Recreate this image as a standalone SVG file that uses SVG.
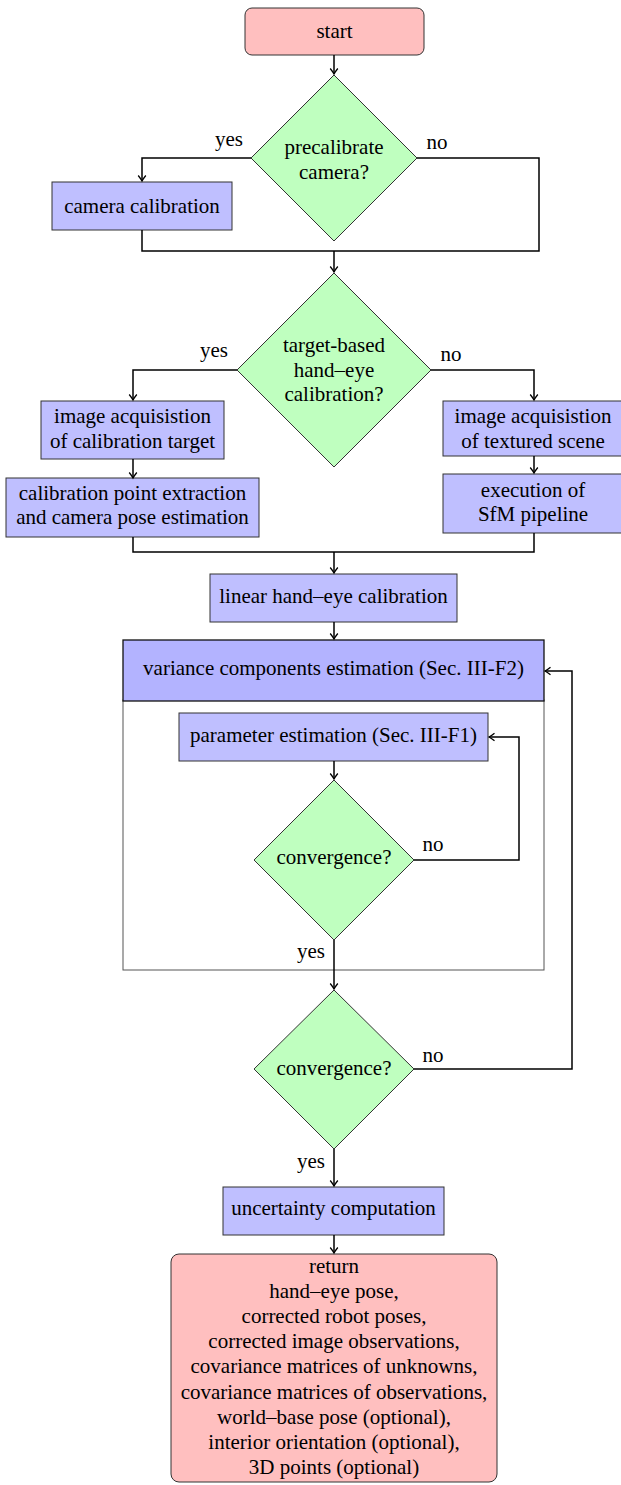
<svg xmlns="http://www.w3.org/2000/svg" width="621" height="1485" viewBox="0 0 621 1485">
<style>
text{font-family:"Liberation Serif","Times New Roman","DejaVu Serif",serif;font-size:21px;fill:#000;text-anchor:middle}
.box{fill:#bfbfff;stroke:#333;stroke-width:1}
.dec{fill:#bfffbf;stroke:#333;stroke-width:1}
.term{fill:#ffbfbf;stroke:#333;stroke-width:1}
.con{fill:none;stroke:#000;stroke-width:1.5;marker-end:url(#arr)}
.line{fill:none;stroke:#000;stroke-width:1.5}
</style>
<defs>
<marker id="arr" markerUnits="userSpaceOnUse" markerWidth="12" markerHeight="12" viewBox="-8 -6 10 12" refX="0" refY="0" orient="auto">
<path d="M-5.5,-3.8 Q-2,-1 0,0 Q-2,1 -5.5,3.8" fill="none" stroke="#000" stroke-width="1.3"/>
</marker>
</defs>
<rect width="621" height="1485" fill="#fff"/>

<g id="start">
<rect class="term" x="245" y="8" width="179" height="47" rx="7"/>
<text x="334.5" y="38">start</text>
</g>

<g id="precalibrate">
<polygon class="dec" points="334,75 417,158 334,241 251,158"/>
<text x="334" y="154">precalibrate</text>
<text x="334" y="179">camera?</text>
</g>

<g id="camera-calibration">
<rect class="box" x="52" y="182" width="180" height="48"/>
<text x="142" y="213">camera calibration</text>
</g>

<g id="target-based">
<polygon class="dec" points="334,273 431,370 334,467 237,370"/>
<text x="334" y="352">target-based</text>
<text x="334" y="377">hand–eye</text>
<text x="334" y="401">calibration?</text>
</g>

<g id="acq-target">
<rect class="box" x="41" y="401" width="183" height="58"/>
<text x="132.5" y="423">image acquisistion</text>
<text x="132.5" y="448">of calibration target</text>
</g>

<g id="point-extraction">
<rect class="box" x="6" y="478" width="253" height="59"/>
<text x="132.5" y="500">calibration point extraction</text>
<text x="132.5" y="524">and camera pose estimation</text>
</g>

<g id="acq-scene">
<rect class="box" x="443" y="401" width="185" height="55"/>
<text x="533" y="423">image acquisistion</text>
<text x="533" y="448">of textured scene</text>
</g>

<g id="sfm">
<rect class="box" x="443" y="474" width="185" height="59"/>
<text x="533" y="497">execution of</text>
<text x="533" y="521">SfM pipeline</text>
</g>

<g id="linear">
<rect class="box" x="210" y="574" width="247" height="48"/>
<text x="333.5" y="603">linear hand–eye calibration</text>
</g>

<g id="variance">
<rect x="123" y="700" width="421" height="270" fill="#fff" stroke="#555" stroke-width="1"/>
<rect x="123" y="640" width="421" height="61" fill="#b3b3ff" stroke="#111" stroke-width="1.3"/>
<text x="333.5" y="675">variance components estimation (Sec. III-F2)</text>
</g>

<g id="parameter">
<rect class="box" x="179" y="713" width="309" height="48"/>
<text x="333.5" y="742">parameter estimation (Sec. III-F1)</text>
</g>

<g id="convergence-inner">
<polygon class="dec" points="334,780 414,860 334,940 254,860"/>
<text x="334" y="864">convergence?</text>
</g>

<g id="convergence-outer">
<polygon class="dec" points="334,990 414,1069 334,1149 254,1069"/>
<text x="334" y="1075">convergence?</text>
</g>

<g id="uncertainty">
<rect class="box" x="223" y="1187" width="221" height="48"/>
<text x="333.5" y="1215">uncertainty computation</text>
</g>

<g id="return">
<rect class="term" x="171" y="1254" width="326" height="228" rx="8"/>
<text x="334" y="1273">return</text>
<text x="334" y="1298">hand–eye pose,</text>
<text x="334" y="1323">corrected robot poses,</text>
<text x="334" y="1348">corrected image observations,</text>
<text x="334" y="1373">covariance matrices of unknowns,</text>
<text x="334" y="1399">covariance matrices of observations,</text>
<text x="334" y="1424">world–base pose (optional),</text>
<text x="334" y="1449">interior orientation (optional),</text>
<text x="334" y="1474">3D points (optional)</text>
</g>

<g id="connectors">
<path class="con" d="M334,55 V74"/>
<path class="con" d="M251,158 H142 V181"/>
<path class="line" d="M417,158 H539 V251 H334"/>
<path class="line" d="M142,230 V251 H334"/>
<path class="con" d="M334,251 V272"/>
<path class="con" d="M237,370 H133 V400"/>
<path class="con" d="M431,370 H534 V400"/>
<path class="con" d="M133,459 V478"/>
<path class="con" d="M534,456 V473"/>
<path class="line" d="M133,537 V552 H534 V533"/>
<path class="con" d="M334,552 V573"/>
<path class="con" d="M334,622 V639"/>
<path class="con" d="M334,761 V779"/>
<path class="con" d="M414,860 H519 V737 H489"/>
<path class="con" d="M334,940 V989"/>
<path class="con" d="M414,1069 H572 V671 H545"/>
<path class="con" d="M334,1149 V1186"/>
<path class="con" d="M334,1235 V1253"/>
<text x="229" y="146">yes</text>
<text x="437" y="149">no</text>
<text x="214" y="357">yes</text>
<text x="451" y="361">no</text>
<text x="433" y="851">no</text>
<text x="311" y="958">yes</text>
<text x="433" y="1062">no</text>
<text x="311" y="1168">yes</text>
</g>
</svg>
